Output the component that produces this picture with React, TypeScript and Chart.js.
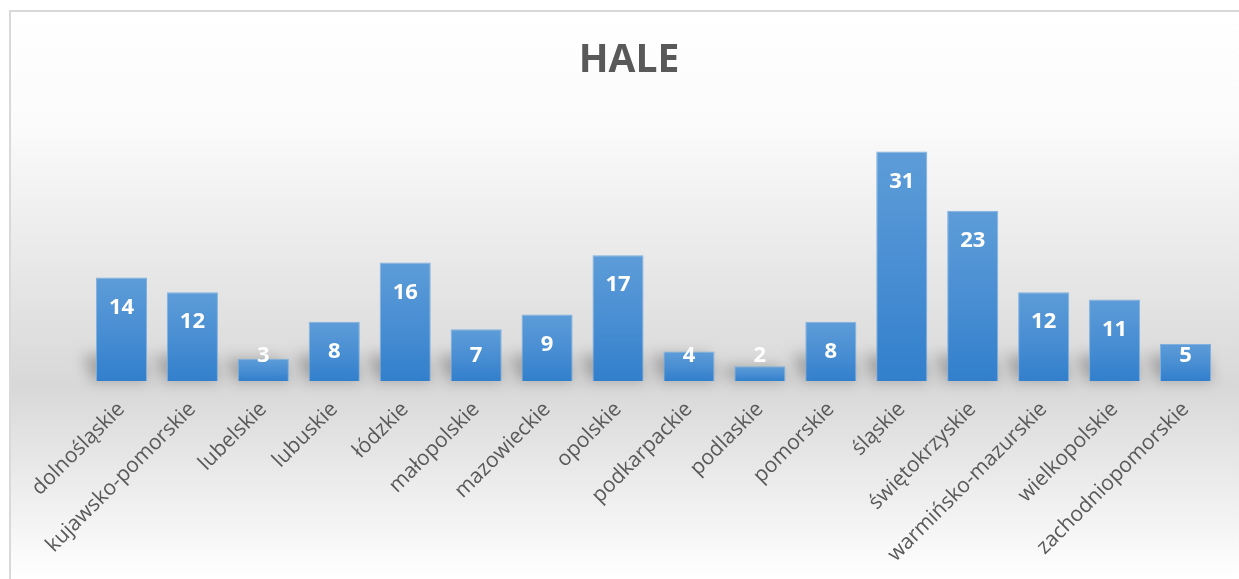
import React, { useEffect, useRef } from "react";
import { Chart, registerables } from "chart.js";

Chart.register(...registerables);

const categories = [
  "dolnośląskie",
  "kujawsko-pomorskie",
  "lubelskie",
  "lubuskie",
  "łódzkie",
  "małopolskie",
  "mazowieckie",
  "opolskie",
  "podkarpackie",
  "podlaskie",
  "pomorskie",
  "śląskie",
  "świętokrzyskie",
  "warmińsko-mazurskie",
  "wielkopolskie",
  "zachodniopomorskie",
];
const values = [14, 12, 3, 8, 16, 7, 9, 17, 4, 2, 8, 31, 23, 12, 11, 5];
const chartTitle = "HALE";

const W = 1239;
const H = 579;

const backgroundPlugin = {
  id: "excelBackground",
  beforeDraw(chart: any) {
    const ctx = chart.ctx;
    ctx.save();
    ctx.fillStyle = "#ffffff";
    ctx.fillRect(0, 0, W, H);
    const g = ctx.createLinearGradient(0, 10, 0, H);
    g.addColorStop(0, "#ffffff");
    g.addColorStop(0.2, "#fbfbfb");
    g.addColorStop(0.66, "#d8d8d8");
    g.addColorStop(1, "#ffffff");
    ctx.fillStyle = g;
    ctx.fillRect(10, 11, W, H);
    ctx.strokeStyle = "#d9d9d9";
    ctx.lineWidth = 2;
    ctx.beginPath();
    ctx.moveTo(10, H + 5);
    ctx.lineTo(10, 11);
    ctx.lineTo(W + 5, 11);
    ctx.stroke();
    // title
    ctx.fillStyle = "#595959";
    ctx.font = "bold 39px 'Open Sans'";
    ctx.textAlign = "center";
    ctx.textBaseline = "middle";
    ctx.fillText(chartTitle, 629, 61);
    ctx.restore();
  },
};

const shadowPlugin = {
  id: "barShadow",
  beforeDatasetsDraw(chart: any) {
    const ctx = chart.ctx;
    const meta = chart.getDatasetMeta(0);
    ctx.save();
    ctx.filter = "blur(7px)";
    ctx.fillStyle = "rgba(0,0,0,0.25)";
    meta.data.forEach((bar: any) => {
      const h = bar.base - bar.y;
      const sh = Math.min(h, 26);
      const w = bar.width;
      ctx.beginPath();
      ctx.moveTo(bar.x - w / 2 - 4, bar.base);
      ctx.lineTo(bar.x - w / 2 - 13, bar.base - sh);
      ctx.lineTo(bar.x + w / 2 - 6, bar.base - sh);
      ctx.lineTo(bar.x + w / 2 + 2, bar.base);
      ctx.closePath();
      ctx.fill();
    });
    ctx.restore();
  },
};

const labelPlugin = {
  id: "barLabels",
  afterDatasetsDraw(chart: any) {
    const ctx = chart.ctx;
    const meta = chart.getDatasetMeta(0);
    ctx.save();
    ctx.fillStyle = "#ffffff";
    ctx.font = "bold 22px 'Open Sans'";
    ctx.textAlign = "center";
    ctx.textBaseline = "middle";
    meta.data.forEach((bar: any, i: number) => {
      const y = Math.min(bar.y + 30, bar.base - 25);
      ctx.fillText(String(values[i]), bar.x, y);
    });
    ctx.restore();
  },
};

export default function App() {
  const ref = useRef<HTMLCanvasElement | null>(null);

  useEffect(() => {
    document.body.style.margin = "0";
    document.body.style.overflow = "hidden";
    const canvas = ref.current;
    if (!canvas) return;
    const chart = new Chart(canvas, {
      type: "bar",
      data: {
        labels: categories,
        datasets: [
          {
            data: values,
            backgroundColor: (c: any) => {
              const chartObj = c.chart;
              const ys = chartObj.scales && chartObj.scales.y;
              if (!ys || c.dataIndex === undefined) return "#4a8cd3";
              const v = values[c.dataIndex];
              const top = ys.getPixelForValue(v);
              const bottom = ys.getPixelForValue(0);
              if (!isFinite(top) || !isFinite(bottom) || top === bottom) return "#4a8cd3";
              const g = chartObj.ctx.createLinearGradient(0, top, 0, bottom);
              g.addColorStop(0, "#5d9cd8");
              g.addColorStop(0.5, "#4a8fd3");
              g.addColorStop(1, "#327fcc");
              return g;
            },
            borderColor: "#7fb1e0",
            borderWidth: 1,
            barPercentage: 0.72,
            categoryPercentage: 1,
          },
        ],
      },
      options: {
        responsive: false,
        animation: false,
        devicePixelRatio: 1,
        layout: {
          padding: { left: 86, right: 18, top: 122, bottom: 0 },
        },
        plugins: {
          legend: { display: false },
          tooltip: { enabled: false },
          title: { display: false },
        },
        scales: {
          x: {
            grid: { display: false },
            border: { display: false },
            ticks: {
              autoSkip: false,
              minRotation: 45,
              maxRotation: 45,
              color: "#595959",
              font: { family: "'Open Sans'", size: 21 },
              padding: 8,
            },
            afterFit(scale: any) {
              scale.height = H - 381;
            },
          },
          y: {
            display: false,
            min: 0,
            max: 35,
          },
        },
      },
      plugins: [backgroundPlugin, shadowPlugin, labelPlugin],
    } as any);
    return () => chart.destroy();
  }, []);

  return (
    <div style={{ width: W, height: H }}>
      <canvas ref={ref} width={W} height={H} style={{ display: "block" }} />
    </div>
  );
}
